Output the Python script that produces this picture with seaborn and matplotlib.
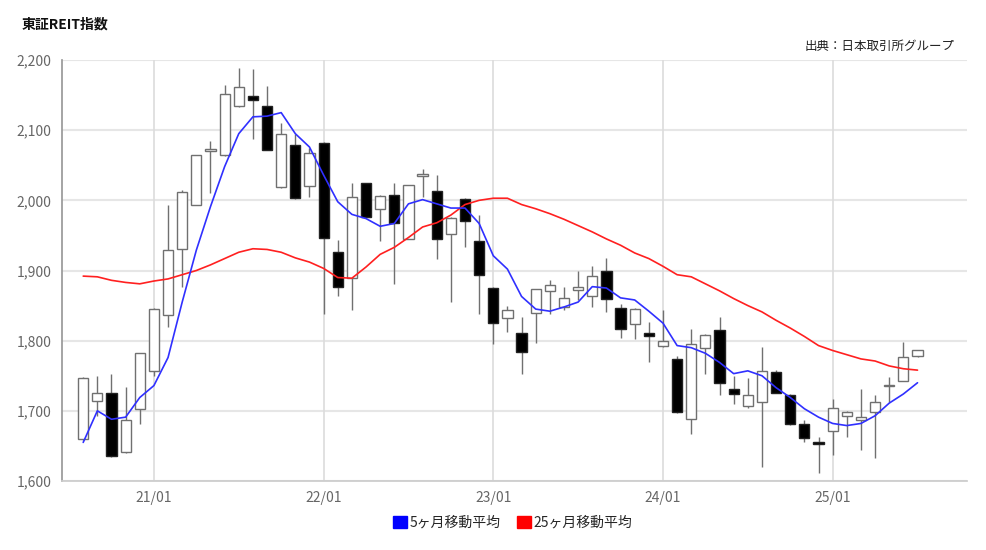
import pandas as pd
import matplotlib
matplotlib.use("Agg")
import matplotlib.pyplot as plt
from matplotlib.patches import Patch
import seaborn as sns

# monthly candles 2020/08 - 2025/07 (東証REIT指数)
months = pd.period_range("2020-08", periods=60, freq="M")
opens = [1660, 1714, 1726, 1641, 1703, 1757, 1837, 1930, 1994, 2070,
         2064, 2134, 2149, 2135, 2019, 2079, 2020, 2082, 1926, 1889,
         2024, 1988, 2007, 1945, 2035, 2014, 1952, 2002, 1942, 1875,
         1833, 1811, 1840, 1871, 1848, 1872, 1864, 1900, 1847, 1824,
         1811, 1792, 1774, 1688, 1790, 1815, 1731, 1707, 1712, 1756,
         1723, 1681, 1656, 1671, 1692, 1687, 1699, 1735, 1743, 1778]
highs = [1748, 1749, 1752, 1734, 1783, 1846, 1994, 2015, 2064, 2085,
         2164, 2188, 2187, 2163, 2110, 2095, 2074, 2083, 1943, 2024,
         2024, 2007, 2024, 2022, 2045, 2036, 1976, 2003, 1979, 1876,
         1850, 1834, 1874, 1887, 1877, 1900, 1906, 1918, 1852, 1846,
         1826, 1844, 1778, 1817, 1809, 1834, 1750, 1747, 1791, 1758,
         1724, 1687, 1662, 1717, 1700, 1731, 1722, 1748, 1798, 1786]
lows = [1659, 1692, 1634, 1640, 1681, 1749, 1819, 1877, 1993, 2010,
        2063, 2133, 2087, 2072, 2018, 2002, 2005, 1838, 1863, 1844,
        1976, 1942, 1881, 1945, 2005, 1917, 1855, 1934, 1838, 1795,
        1812, 1752, 1797, 1838, 1844, 1858, 1848, 1841, 1804, 1802,
        1769, 1791, 1697, 1667, 1753, 1722, 1710, 1704, 1620, 1726,
        1680, 1655, 1612, 1637, 1662, 1644, 1633, 1712, 1742, 1777]
closes = [1747, 1726, 1635, 1687, 1782, 1845, 1929, 2012, 2064, 2073,
          2152, 2161, 2143, 2072, 2094, 2003, 2067, 1947, 1877, 2005,
          1976, 2006, 1967, 2022, 2037, 1945, 1975, 1971, 1893, 1825,
          1843, 1784, 1873, 1880, 1861, 1877, 1892, 1860, 1816, 1845,
          1806, 1799, 1698, 1795, 1808, 1740, 1724, 1722, 1757, 1726,
          1681, 1661, 1653, 1704, 1699, 1691, 1712, 1737, 1777, 1786]
ma5 = [1655, 1700, 1688, 1691, 1719, 1736, 1776, 1855, 1929, 1991,
       2048, 2095, 2119, 2120, 2125, 2095, 2076, 2036, 1998, 1980,
       1974, 1963, 1967, 1995, 2001, 1995, 1989, 1989, 1967, 1921,
       1902, 1863, 1845, 1842, 1848, 1855, 1877, 1875, 1861, 1858,
       1842, 1825, 1793, 1790, 1782, 1769, 1753, 1757, 1750, 1733,
       1719, 1703, 1691, 1682, 1679, 1682, 1693, 1711, 1724, 1740]
ma25 = [1892, 1891, 1886, 1883, 1881, 1885, 1888, 1894, 1900, 1908,
        1917, 1926, 1931, 1930, 1926, 1918, 1912, 1903, 1890, 1889,
        1905, 1923, 1933, 1947, 1962, 1968, 1979, 1994, 2000, 2003,
        2003, 1994, 1988, 1981, 1973, 1964, 1955, 1945, 1936, 1925,
        1917, 1906, 1894, 1891, 1881, 1871, 1860, 1850, 1841, 1829,
        1818, 1806, 1793, 1786, 1780, 1774, 1771, 1764, 1760, 1758]
yticks = [1600, 1700, 1800, 1900, 2000, 2100, 2200]

df = pd.DataFrame({"month": months.strftime("%y/%m"), "open": opens, "high": highs,
                   "low": lows, "close": closes, "ma5": ma5, "ma25": ma25})
df["x"] = range(len(df))
df["up"] = df["close"] >= df["open"]
df["body_lo"] = df[["open", "close"]].min(axis=1)
df["body_h"] = (df["close"] - df["open"]).abs().clip(lower=1.5)

sns.set_theme(style="white")
plt.rcParams["font.family"] = ["Noto Sans CJK JP", "DejaVu Sans"]

fig = plt.figure(figsize=(9.86, 5.5), dpi=100)
ax = fig.add_axes([62/986, 1-481/550, (967-62)/986, (481-60)/550])

# grid
for v in yticks:
    ax.axhline(v, color="#e6e6e6", lw=1.5, zorder=0)
tick_x = df.loc[df["month"].str.endswith("/01"), "x"]
for v in tick_x:
    ax.axvline(v, color="#dcdcdc", lw=1.2, zorder=0)

# candles
ax.vlines(df["x"], df["low"], df["high"], color="#707070", lw=1, zorder=2)
ax.bar(df["x"], df["body_h"], bottom=df["body_lo"], width=0.72,
       color=["white" if u else "black" for u in df["up"]],
       edgecolor=["#707070" if u else "#222222" for u in df["up"]],
       linewidth=1, zorder=3)

# moving averages
sns.lineplot(data=df, x="x", y="ma25", color="#ff2020", lw=1.2, ax=ax, zorder=4)
sns.lineplot(data=df, x="x", y="ma5", color="#3030ff", lw=1.2, ax=ax, zorder=5)

ax.set_xlim(-1.5, 62.5)
ax.set_ylim(1600, 2200)
ax.set_yticks(yticks)
ax.set_yticklabels([f"{v:,}" for v in yticks])
ax.set_xticks(tick_x)
ax.set_xticklabels(df.loc[tick_x, "month"])
ax.set_xlabel("")
ax.set_ylabel("")
ax.tick_params(axis="both", colors="#666666", labelsize=10, length=4, width=1)
ax.tick_params(axis="x", labelcolor="#666666")
for s in ["top", "right"]:
    ax.spines[s].set_visible(False)
ax.spines["left"].set_color("#999999")
ax.spines["bottom"].set_color("#cccccc")

fig.text(22/986, 1-25/550, "東証REIT指数", fontsize=10, fontweight="bold",
         va="center", ha="left", color="#111111")
fig.text(955/986, 1-46/550, "出典：日本取引所グループ", fontsize=9,
         va="center", ha="right", color="#222222")

handles = [Patch(color="#0000ff", label="5ヶ月移動平均"),
           Patch(color="#ff0000", label="25ヶ月移動平均")]
fig.legend(handles=handles, loc="center", bbox_to_anchor=(0.52, 1-523/550), ncol=2,
           frameon=False, fontsize=10, handlelength=1.0, handleheight=1.0,
           handletextpad=0.2, columnspacing=1.2)

fig.savefig("out.png", dpi=100, facecolor="white")
